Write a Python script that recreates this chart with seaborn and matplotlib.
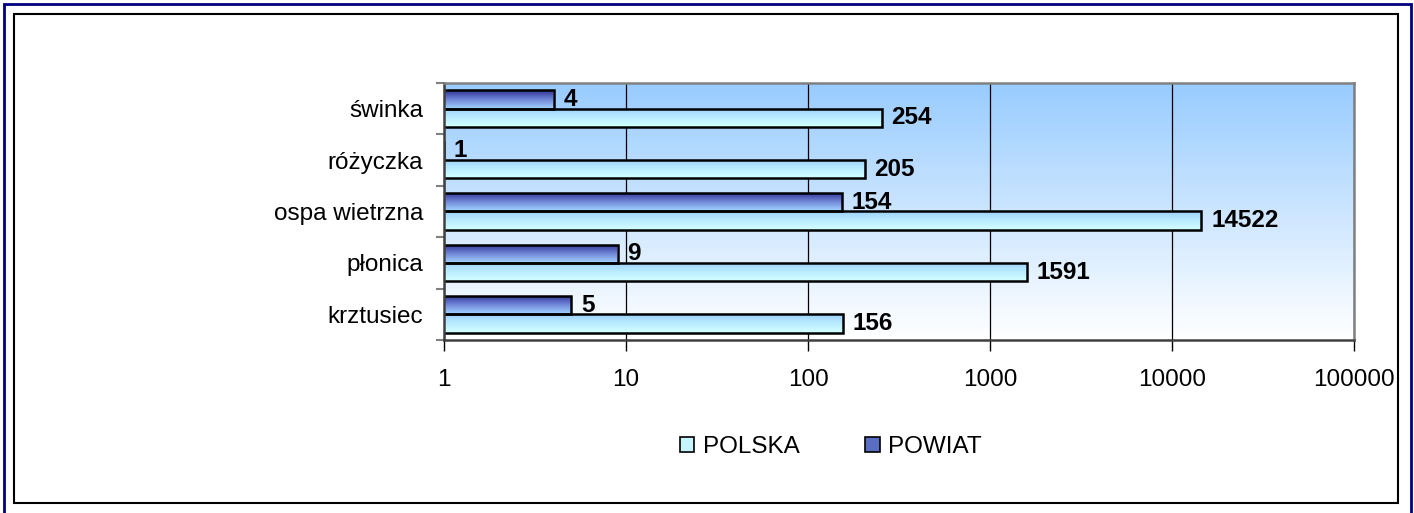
import numpy as np
import pandas as pd
import matplotlib.pyplot as plt
import seaborn as sns
from matplotlib.colors import LinearSegmentedColormap
from matplotlib.patches import Rectangle, Patch

CHOROBY = ["świnka", "różyczka", "ospa wietrzna", "płonica", "krztusiec"]
POWIAT = [4, 1, 154, 9, 5]
POLSKA = [254, 205, 14522, 1591, 156]
SERIE = ["POWIAT", "POLSKA"]
X_TICKS = [1, 10, 100, 1000, 10000, 100000]

df = pd.concat([
    pd.DataFrame({"choroba": CHOROBY, "seria": "POWIAT", "wartosc": POWIAT}),
    pd.DataFrame({"choroba": CHOROBY, "seria": "POLSKA", "wartosc": POLSKA}),
])

sns.set_style("white")
plt.rcParams["font.family"] = ["Liberation Sans", "DejaVu Sans"]
plt.rcParams["text.color"] = "black"
plt.rcParams["xtick.labelcolor"] = "black"
plt.rcParams["ytick.labelcolor"] = "black"

FS = 17.5

fig = plt.figure(figsize=(14.14, 5.13), dpi=100)
W, H = 1414, 513
ax = fig.add_axes([444 / W, 1 - 340 / H, (1354 - 444) / W, (340 - 83) / H])
ax.set_xscale("log")

sns.barplot(
    data=df, y="choroba", x="wartosc", hue="seria",
    hue_order=SERIE, order=CHOROBY, orient="h",
    width=0.71, edgecolor="black", linewidth=1.8,
    legend=False, ax=ax,
)

ax.set_xlim(1, 100000)
ax.set_ylim(4.5, -0.5)
ax.set_autoscale_on(False)

# gradient fills clipped to the bars
grad = np.linspace(0, 1, 64).reshape(-1, 1)
cmaps = {
    "POWIAT": LinearSegmentedColormap.from_list("pw", ["#333399", "#6f86d6", "#9fd0ff"]),
    "POLSKA": LinearSegmentedColormap.from_list("pl", ["#9fd2ff", "#b9ecff", "#d2ffff"]),
}
for name, cont in zip(SERIE, ax.containers):
    for bar in cont:
        y, h = bar.get_y(), bar.get_height()
        im = ax.imshow(grad, cmap=cmaps[name], aspect="auto", origin="upper",
                       extent=(0, 1, y + h, y), transform=ax.get_yaxis_transform(),
                       zorder=1.5)
        im.set_clip_path(bar)
        bar.set_facecolor("none")
        bar.set_zorder(2)

# plot area background gradient
bg = LinearSegmentedColormap.from_list("bg", ["#99ccff", "#ffffff"])
ax.imshow(grad, cmap=bg, aspect="auto", origin="upper", extent=(0, 1, 0, 1),
          transform=ax.transAxes, zorder=0.1)
ax.set_facecolor("white")

for cont in ax.containers:
    ax.bar_label(cont, labels=[f"{v:.0f}" for v in cont.datavalues], padding=7,
                 fontsize=FS, fontweight="bold", color="black", zorder=3)

ax.set_axisbelow(True)
ax.xaxis.grid(True, which="major", color="black", linewidth=0.9)
ax.xaxis.grid(False, which="minor")
ax.set_xticks(X_TICKS)
ax.set_xticklabels([str(t) for t in X_TICKS], fontsize=FS)
ax.xaxis.set_minor_locator(plt.NullLocator())
ax.tick_params(axis="x", which="major", direction="out", length=8, width=1,
               color="black", pad=13, bottom=True)

ax.set_yticks(range(len(CHOROBY)))
ax.set_yticklabels(CHOROBY, fontsize=FS)
ax.set_yticks(np.arange(-0.5, len(CHOROBY)), minor=True)
ax.tick_params(axis="y", which="major", length=0, pad=15, left=True)
ax.tick_params(axis="y", which="minor", direction="out", length=6, width=1.5,
               color="#808080", left=True)
ax.set_xlabel("")
ax.set_ylabel("")

for side in ["left", "bottom"]:
    ax.spines[side].set_color("#404040")
    ax.spines[side].set_linewidth(1.8)
for side in ["top", "right"]:
    ax.spines[side].set_color("#808080")
    ax.spines[side].set_linewidth(1.8)
for s in ax.spines.values():
    s.set_zorder(4)

handles = [
    Patch(facecolor="#c6f4ff", edgecolor="black", linewidth=1.2, label="POLSKA"),
    Patch(facecolor="#5a6ec4", edgecolor="black", linewidth=1.2, label="POWIAT"),
]
fig.legend(handles=handles, loc="center", bbox_to_anchor=(831 / W, 1 - 447 / H),
           ncol=2, frameon=False, fontsize=FS, handlelength=0.6, handleheight=0.6,
           handletextpad=0.35, columnspacing=2.7)

# outer frames
fig.patches.append(Rectangle((4 / W, -0.05), 1407 / W, 1.05 - 4 / H,
                             transform=fig.transFigure, fill=False,
                             edgecolor="#000080", linewidth=2))
fig.patches.append(Rectangle((14 / W, 1 - 503 / H), 1384 / W, 489 / H,
                             transform=fig.transFigure, fill=False,
                             edgecolor="black", linewidth=1.5))

fig.savefig("out.png", dpi=100, facecolor="white")
